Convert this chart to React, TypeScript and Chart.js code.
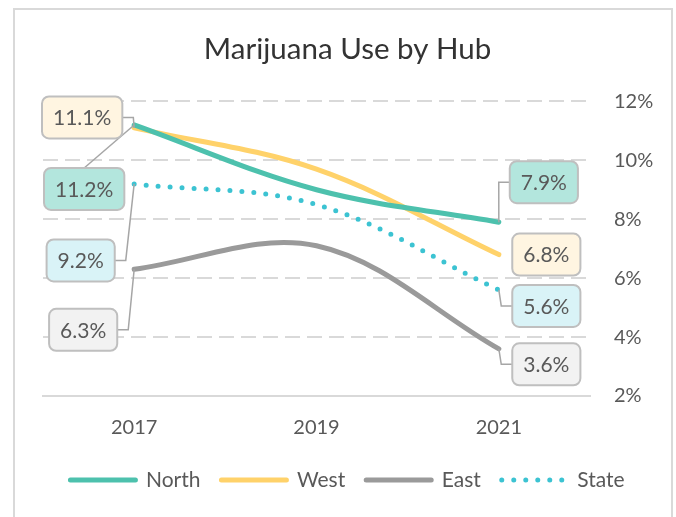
import React, { useEffect, useRef } from 'react';
import { Chart, registerables } from 'chart.js';

Chart.register(...registerables);

// ---- data ----
const years = ['2017', '2019', '2021'];
const seriesNames = ['North', 'West', 'East', 'State'];
const northValues = [11.2, 9.0, 7.9];
const westValues = [11.1, 9.7, 6.8];
const eastValues = [6.3, 7.1, 3.6];
const stateValues = [9.2, 8.5, 5.6];
const yTickValues = [2, 4, 6, 8, 10, 12];
const chartTitle = 'Marijuana Use by Hub';

// ---- styles ----
const FONT = 'Lato, "Open Sans", sans-serif';
const lineColors = ['#4DC1AD', '#FFD26A', '#9A9A9A', '#3CC3D2'];
const labelFills = ['#B3E6DD', '#FFF5E1', '#F2F2F2', '#D9F3F7'];
const dashes: number[][] = [[], [], [], [0, 12]];

type LabelCfg = { dx: number; dy: number; leader: 'side' | 'top' | 'none' };
const labelLayout: { start: LabelCfg; end: LabelCfg }[] = [
  { start: { dx: -50, dy: 64, leader: 'top' }, end: { dx: 45, dy: -40, leader: 'side' } },
  { start: { dx: -52, dy: -10.5, leader: 'side' }, end: { dx: 47.5, dy: 0, leader: 'none' } },
  { start: { dx: -51, dy: 60.5, leader: 'side' }, end: { dx: 47.5, dy: 15.5, leader: 'side' } },
  { start: { dx: -53.5, dy: 76.5, leader: 'side' }, end: { dx: 47.5, dy: 16, leader: 'side' } },
];

const framePlugin = {
  id: 'frame',
  beforeDraw(chart: any) {
    const ctx = chart.ctx;
    ctx.save();
    ctx.fillStyle = '#ffffff';
    ctx.fillRect(0, 0, chart.width, chart.height);
    ctx.strokeStyle = '#D9D9D9';
    ctx.lineWidth = 2;
    ctx.beginPath();
    ctx.moveTo(14, chart.height);
    ctx.lineTo(14, 9);
    ctx.lineTo(672, 9);
    ctx.lineTo(672, chart.height);
    ctx.stroke();
    ctx.restore();
  },
};

const labelPlugin = {
  id: 'endLabels',
  afterDatasetsDraw(chart: any) {
    const ctx = chart.ctx;
    ctx.save();
    ctx.font = `21px ${FONT}`;
    chart.data.datasets.forEach((ds: any, i: number) => {
      const meta = chart.getDatasetMeta(i);
      const n = ds.data.length;
      const ends: [number, 'start' | 'end'][] = [[0, 'start'], [n - 1, 'end']];
      ends.forEach(([idx, side]) => {
        const pt = meta.data[idx];
        const cfg = labelLayout[i][side];
        const text = Number(ds.data[idx]).toFixed(1) + '%';
        const tw = ctx.measureText(text).width;
        const w = tw + 22;
        const h = 42;
        const cx = pt.x + cfg.dx;
        const cy = pt.y + cfg.dy;
        const left = cx - w / 2;
        const top = cy - h / 2;
        ctx.strokeStyle = '#A6A6A6';
        ctx.lineWidth = 1.5;
        ctx.setLineDash([]);
        if (cfg.leader === 'side') {
          const edgeX = side === 'start' ? left + w : left;
          const stubX = side === 'start' ? edgeX + 11 : edgeX - 11;
          ctx.beginPath();
          ctx.moveTo(edgeX, cy);
          ctx.lineTo(stubX, cy);
          ctx.lineTo(pt.x, pt.y);
          ctx.stroke();
        } else if (cfg.leader === 'top') {
          ctx.beginPath();
          ctx.moveTo(cx, top);
          ctx.lineTo(pt.x, pt.y);
          ctx.stroke();
        }
        ctx.beginPath();
        (ctx as any).roundRect(left, top, w, h, 7);
        ctx.fillStyle = labelFills[i];
        ctx.fill();
        ctx.strokeStyle = '#BFBFBF';
        ctx.lineWidth = 2;
        ctx.stroke();
        ctx.fillStyle = '#595959';
        ctx.textAlign = 'center';
        ctx.textBaseline = 'middle';
        ctx.fillText(text, cx, cy + 1);
      });
    });
    ctx.restore();
  },
};

export default function App() {
  const canvasRef = useRef<HTMLCanvasElement | null>(null);

  useEffect(() => {
    if (!canvasRef.current) return;
    const seriesValues = [northValues, westValues, eastValues, stateValues];
    const chart = new Chart(canvasRef.current, {
      type: 'line',
      data: {
        labels: years,
        datasets: seriesNames.map((name, i) => ({
          label: name,
          data: seriesValues[i],
          xAxisID: 'x',
          yAxisID: 'y',
          borderColor: lineColors[i],
          backgroundColor: lineColors[i],
          borderWidth: 5,
          borderDash: dashes[i],
          borderCapStyle: 'round',
          borderJoinStyle: 'round',
          pointRadius: 0,
          pointHoverRadius: 0,
          tension: 0.35,
          fill: false,
        })),
      },
      options: {
        responsive: false,
        animation: false,
        devicePixelRatio: 1,
        layout: { padding: { top: 10, left: 19, right: 0, bottom: 16.5 } },
        plugins: {
          tooltip: { enabled: false },
          title: {
            display: true,
            text: chartTitle,
            color: '#333333',
            font: { family: FONT, size: 29.5, weight: 'normal' },
            padding: { top: 22, bottom: 34 },
          },
          legend: {
            display: true,
            position: 'bottom',
            labels: {
              usePointStyle: true,
              pointStyle: 'line',
              pointStyleWidth: 65,
              padding: 21,
              color: '#595959',
              font: { family: FONT, size: 21 },
              generateLabels: (c: any) =>
                c.data.datasets.map((ds: any, i: number) => ({
                  text: ds.label,
                  fillStyle: ds.borderColor,
                  strokeStyle: ds.borderColor,
                  lineWidth: 5,
                  lineCap: 'round',
                  lineDash: ds.borderDash,
                  pointStyle: 'line',
                  fontColor: '#595959',
                  hidden: false,
                  datasetIndex: i,
                })),
            },
          },
        },
        scales: {
          x: {
            type: 'category',
            offset: true,
            grid: { display: false },
            border: { display: true, color: '#D9D9D9', width: 2 },
            ticks: { color: '#595959', font: { family: FONT, size: 20 }, padding: 12 },
            afterFit: (s: any) => {
              s.height = 52.5;
            },
          },
          yPad: {
            type: 'linear',
            position: 'left',
            display: true,
            min: 0,
            max: 1,
            grid: { display: false },
            border: { display: false },
            ticks: { display: false },
            afterFit: (s: any) => {
              s.width = 24;
            },
          },
          y: {
            type: 'linear',
            position: 'right',
            min: 2,
            max: 12,
            grid: {
              color: (c: any) => (c.tick && c.tick.value === 2 ? 'rgba(0,0,0,0)' : '#D9D9D9'),
              lineWidth: 2,
              drawTicks: false,
            },
            border: { display: false, dash: [15, 7] },
            afterBuildTicks: (s: any) => {
              s.ticks = yTickValues.map((v) => ({ value: v }));
            },
            ticks: {
              color: '#595959',
              font: { family: FONT, size: 20 },
              padding: 24,
              callback: (v: any) => `${v}%`,
            },
            afterFit: (s: any) => {
              s.width = 86;
            },
          },
        },
      },
      plugins: [framePlugin, labelPlugin],
    } as any);
    return () => chart.destroy();
  }, []);

  return (
    <div style={{ position: 'fixed', left: 0, top: 0, width: 676, height: 517 }}>
      <canvas ref={canvasRef} width={676} height={517} style={{ display: 'block' }} />
    </div>
  );
}
